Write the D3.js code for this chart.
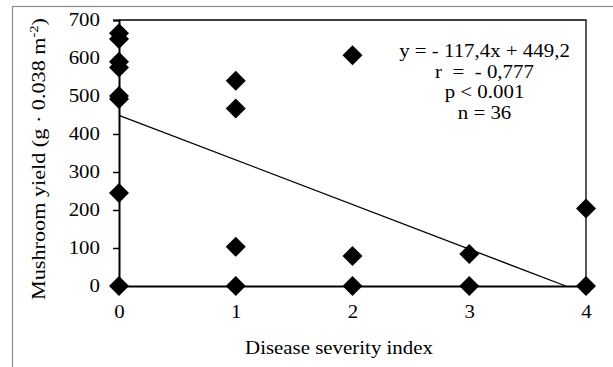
<!DOCTYPE html>
<html><head><meta charset="utf-8">
<script src="https://cdn.jsdelivr.net/npm/d3@7"></script>
<style>
html,body{margin:0;padding:0;background:#fff;}
svg{display:block;}
text{font-family:"Liberation Serif","Times New Roman",serif;fill:#000;}
</style></head>
<body>
<svg id="chart" width="613" height="367"></svg>
<script>
// Data
const severity = [0,0,0,0,0,0,0,0, 1,1,1,1, 2,2,2, 3,3, 4,4];
const yieldVals = [665,650,590,575,500,492,245,0, 540,467,103,0, 607,79,0, 84,0, 204,0];
const xTicks = [0,1,2,3,4];
const yTicks = [0,100,200,300,400,500,600,700];
const slope = -117.4, intercept = 449.2;
const annotation = ["y = - 117,4x + 449,2", "r  =  - 0,777", "p < 0.001", "n = 36"];

const FS = 18.5, SX = 1.13;
const svg = d3.select("#chart");
const x = d3.scaleLinear().domain([0,4]).range([119,586]);
const y = d3.scaleLinear().domain([0,700]).range([286,20]);

// outer frame
svg.append("rect").attr("x",12.5).attr("y",6.5).attr("width",700).attr("height",500)
  .attr("fill","none").attr("stroke","#8c8c8c").attr("stroke-width",1.2);

// plot frame (top/right)
svg.append("path").attr("d",`M${x(0)},${y(700)}H${x(4)}V${y(0)}`)
  .attr("fill","none").attr("stroke","#000").attr("stroke-width",1.3);

// y axis
const yAxis = d3.axisLeft(y).tickValues(yTicks).tickSize(6).tickPadding(13).tickFormat(d3.format("d"));
const gy = svg.append("g").attr("transform",`translate(${x(0)},0)`).call(yAxis);
gy.select(".domain").attr("stroke-width",2);
gy.selectAll(".tick line").attr("stroke-width",1.5);
gy.selectAll("text").attr("font-size",FS).attr("font-family",null)
  .attr("x",0).attr("transform",`translate(-19,0) scale(${SX},1)`);

// x axis
const xAxis = d3.axisBottom(x).tickValues(xTicks).tickSize(6).tickPadding(13).tickFormat(d3.format("d"));
const gx = svg.append("g").attr("transform",`translate(0,${y(0)})`).call(xAxis);
gx.select(".domain").attr("stroke-width",2);
gx.selectAll(".tick line").attr("stroke-width",1.5);
gx.selectAll("text").attr("font-size",FS).attr("font-family",null)
  .attr("transform",`scale(${SX},1)`);
gy.attr("font-family",null); gx.attr("font-family",null);

// regression line clipped at y=0
const xEnd = -intercept/slope;
svg.append("line").attr("x1",x(0)).attr("y1",y(intercept))
  .attr("x2",x(xEnd)).attr("y2",y(0)).attr("stroke","#000").attr("stroke-width",1.3);

// points
const sym = d3.symbol().type(d3.symbolSquare).size(200);
svg.append("g").selectAll("path").data(severity.map((s,i)=>({s,v:yieldVals[i]})))
  .join("path").attr("d",sym)
  .attr("transform",d=>`translate(${x(d.s)},${y(d.v)}) rotate(45)`)
  .attr("fill","#000");

// annotation
const ann = svg.append("text").attr("text-anchor","middle").attr("font-size",FS)
  .attr("transform",`translate(484.5,0) scale(${SX},1)`);
annotation.forEach((t,i)=>{
  ann.append("tspan").attr("x",0).attr("y",57+i*20.7).attr("xml:space","preserve").text(t);
});

// axis titles
svg.append("text").attr("transform",`translate(339,354) scale(${SX},1)`).attr("text-anchor","middle")
  .attr("font-size",FS).text("Disease severity index");
const yl = svg.append("text").attr("transform",`translate(45,159) rotate(-90) scale(1.2,1)`)
  .attr("text-anchor","middle").attr("font-size",FS);
yl.append("tspan").text("Mushroom yield (g \u00B7 0.038 m");
yl.append("tspan").attr("font-size",12).attr("dy",-7).text("-2");
yl.append("tspan").attr("dy",7).text(")");
</script>
</body></html>
